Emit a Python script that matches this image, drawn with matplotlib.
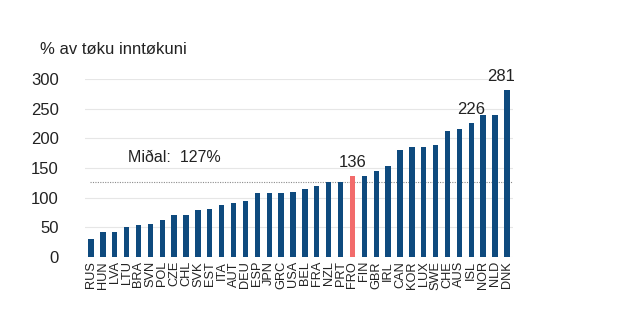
import numpy as np
import matplotlib
matplotlib.use('Agg')
import matplotlib.pyplot as plt

plt.rcParams['font.family'] = ['Liberation Sans', 'DejaVu Sans']

# Data
countries = ['RUS', 'HUN', 'LVA', 'LTU', 'BRA', 'SVN', 'POL', 'CZE', 'CHL', 'SVK',
             'EST', 'ITA', 'AUT', 'DEU', 'ESP', 'JPN', 'GRC', 'USA', 'BEL', 'FRA',
             'NZL', 'PRT', 'FRO', 'FIN', 'GBR', 'IRL', 'CAN', 'KOR', 'LUX', 'SWE',
             'CHE', 'AUS', 'ISL', 'NOR', 'NLD', 'DNK']
values = [30, 42, 42, 50, 54, 56, 62, 70, 70, 79,
          81, 87, 91, 95, 108, 108, 108, 109, 115, 120,
          127, 127, 136, 137, 145, 153, 181, 185, 185, 189,
          212, 216, 226, 239, 240, 281]
median = 127
labelled = ['FRO', 'ISL', 'DNK']
highlight = 'FRO'

NAVY = '#0E4A7E'
RED = '#F26B6B'

fig = plt.figure(figsize=(6.32, 3.29), dpi=100)
ax = fig.add_axes([0.1345, 0.219, 0.677, 0.541])

x = np.arange(len(countries))
colors = [RED if c == highlight else NAVY for c in countries]
ax.bar(x, values, width=0.45, color=colors, zorder=3)

# median line
ax.plot([-0.05, len(countries) - 0.5], [median, median], color='#8C8C8C',
        linestyle=(0, (1, 1.2)), linewidth=0.8, zorder=2)
ax.text(3.1, 168, 'Miðal:  127%', fontsize=11.5, color='#222222', va='center', ha='left')

for c, v, xi in zip(countries, values, x):
    if c in labelled:
        dx = -0.5 if c == 'DNK' else 0
        ax.text(xi + dx, v + 10, str(v), ha='center', va='bottom', fontsize=12,
                color='#222222', clip_on=False)

ax.set_xlim(-0.5, len(countries) - 0.5)
ax.set_ylim(0, 300)
ax.set_yticks(np.arange(0, 301, 50))
ax.set_xticks(x)
ax.set_xticklabels(countries, rotation=90, fontsize=9.2, color='#222222')
ax.tick_params(axis='y', length=0, pad=19, labelsize=12, labelcolor='#222222')
ax.tick_params(axis='x', length=0, pad=3)
ax.grid(axis='y', color='#E6E6E6', linewidth=0.8, zorder=0)
for s in ax.spines.values():
    s.set_visible(False)

fig.text(40 / 632, 1 - 50 / 329, '% av tøku inntøkuni', fontsize=12,
         color='#222222', va='center', ha='left')

fig.savefig('out.png', dpi=100)
